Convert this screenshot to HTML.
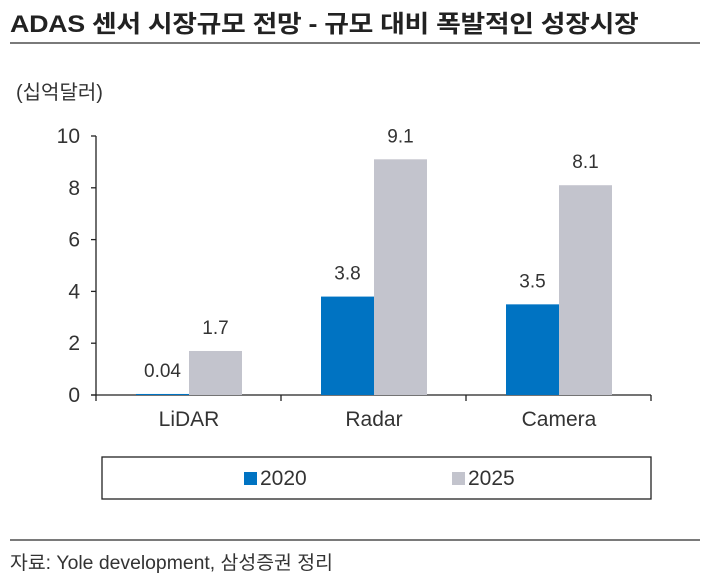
<!DOCTYPE html>
<html><head><meta charset="utf-8">
<style>
body{margin:0;background:#fff;width:706px;height:581px;overflow:hidden;position:relative;font-family:"Liberation Sans","Noto Sans CJK KR",sans-serif;color:#222}
.abs{position:absolute}
</style></head><body>
<div class="abs" style="left:10px;top:4px;font-size:24px;font-weight:bold;letter-spacing:-0.3px;white-space:nowrap;transform:scaleX(1.12);transform-origin:left">ADAS 센서 시장규모 전망 - 규모 대비 폭발적인 성장시장</div>
<div class="abs" style="left:10px;top:42px;width:690px;height:2px;background:#7a7a7a"></div>
<div class="abs" style="left:16px;top:76px;font-size:20px;color:#333">(십억달러)</div>
<svg class="abs" style="left:0;top:0" width="706" height="581">
<g id="g"></g>
</svg>
<div class="abs" style="left:10px;top:539px;width:690px;height:2px;background:#7a7a7a"></div>
<div class="abs" style="left:10px;top:548px;font-size:19px;color:#333;white-space:nowrap;transform:scaleX(1.02);transform-origin:left">자료: Yole development, 삼성증권 정리</div>
<script>
const categories=["LiDAR","Radar","Camera"];
const series2020=[0.04,3.8,3.5];
const series2025=[1.7,9.1,8.1];
const labels2020=["0.04","3.8","3.5"];
const labels2025=["1.7","9.1","8.1"];
const yTicks=[0,2,4,6,8,10];
const NS="http://www.w3.org/2000/svg";
const g=document.getElementById('g');
const X0=96,CW=185,Y0=395,Y10=136,BW=53,OFF=40;
const y=v=>Y0-(v/10)*(Y0-Y10);
function mk(t,a,txt){const e=document.createElementNS(NS,t);for(const k in a)e.setAttribute(k,a[k]);if(txt!==undefined)e.textContent=txt;g.appendChild(e);return e;}
let e=mk('line',{x1:X0,y1:Y10,x2:X0,y2:Y0,stroke:'#222','stroke-width':1.3});

e=mk('line',{x1:X0-5,y1:Y0,x2:X0+CW*categories.length,y2:Y0,stroke:'#222','stroke-width':1.3});

yTicks.forEach(t=>{
 let l=mk('line',{x1:X0-5,y1:y(t),x2:X0,y2:y(t),stroke:'#222','stroke-width':1.3});
 
 let tx=mk('text',{x:X0-16,y:y(t)+7,'text-anchor':'end','font-size':21,fill:'#333'},String(t));
 
});
for(let i=0;i<=categories.length;i++){
 let l=mk('line',{x1:X0+CW*i,y1:Y0,x2:X0+CW*i,y2:Y0+6,stroke:'#222','stroke-width':1.3});
 
}
categories.forEach((c,i)=>{
 const gx=X0+CW*i;
 let b=mk('rect',{x:gx+OFF,y:y(series2020[i]),width:BW,height:Y0-y(series2020[i]),fill:'#0073c2'});
 
 let b2=mk('rect',{x:gx+OFF+BW,y:y(series2025[i]),width:BW,height:Y0-y(series2025[i]),fill:'#c3c4cd'});
 
 let t1=mk('text',{x:gx+OFF+BW/2,y:y(series2020[i])-17,'text-anchor':'middle','font-size':19,fill:'#333'},labels2020[i]);
 
 let t2=mk('text',{x:gx+OFF+BW*1.5,y:y(series2025[i])-17,'text-anchor':'middle','font-size':19,fill:'#333'},labels2025[i]);
 
 let cl=mk('text',{x:gx+OFF+BW,y:Y0+31,'text-anchor':'middle','font-size':21,fill:'#333'},c);
 
});
let lb=mk('rect',{x:102,y:457,width:549,height:42,fill:'none',stroke:'#222','stroke-width':1.3});

let s1=mk('rect',{x:244,y:472,width:13,height:13,fill:'#0073c2'});

let l1=mk('text',{x:260,y:485,'font-size':21,fill:'#333'},'2020');

let s2=mk('rect',{x:452,y:472,width:13,height:13,fill:'#c3c4cd'});

let l2=mk('text',{x:468,y:485,'font-size':21,fill:'#333'},'2025');

</script>
</body></html>
